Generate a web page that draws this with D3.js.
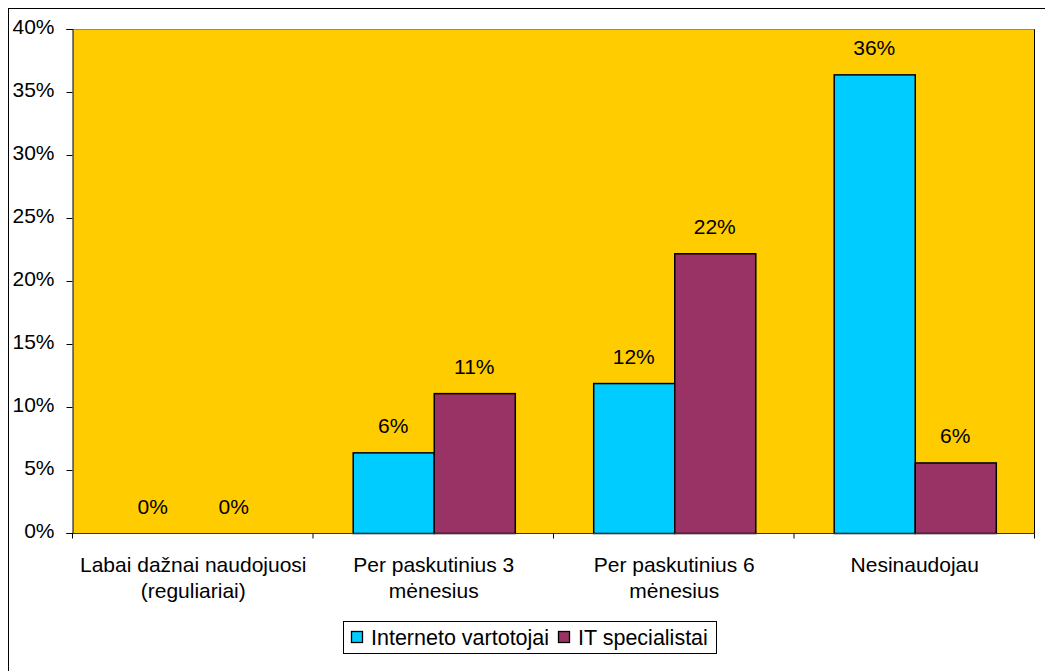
<!DOCTYPE html>
<html>
<head>
<meta charset="utf-8">
<script src="https://d3js.org/d3.v7.min.js"></script>
<style>
  html, body { margin: 0; padding: 0; background: #ffffff; }
  svg { display: block; font-family: "Liberation Sans", Arial, sans-serif; }
</style>
</head>
<body>
<svg id="chart" width="1045" height="671"></svg>
<script>
// Survey answers (two-line labels) and shares per respondent group
const categories = [
  ["Labai dažnai naudojuosi", "(reguliariai)"],
  ["Per paskutinius 3", "mėnesius"],
  ["Per paskutinius 6", "mėnesius"],
  ["Nesinaudojau"]
];
const seriesNames = ["Interneto vartotojai", "IT specialistai"];
const internetoVartotojai = [0, 0.064, 0.119, 0.364];
const itSpecialistai = [0, 0.111, 0.222, 0.056];
const yTicks = [0, 0.05, 0.10, 0.15, 0.20, 0.25, 0.30, 0.35, 0.40];
const colors = ["#00CCFF", "#993366"];

const FONT = 21;
const svg = d3.select("#chart");
const W = 1045, H = 671;
const plot = { left: 73, right: 1035, top: 29, bottom: 533 };

// Outer chart frame (runs past the right and bottom edges)
svg.append("rect")
  .attr("x", 8.5).attr("y", 8.5)
  .attr("width", W + 10).attr("height", H + 10)
  .attr("fill", "#ffffff").attr("stroke", "#000").attr("stroke-width", 1);

const x0 = d3.scaleBand()
  .domain(d3.range(categories.length))
  .range([plot.left, plot.right])
  .paddingInner(0).paddingOuter(0);

const groupPad = 0.163;
const x1 = d3.scaleBand()
  .domain([0, 1])
  .range([x0.bandwidth() * groupPad, x0.bandwidth() * (1 - groupPad)]);

const y = d3.scaleLinear().domain([0, 0.40]).range([plot.bottom, plot.top]);

// Plot background
svg.append("rect")
  .attr("x", plot.left).attr("y", plot.top)
  .attr("width", plot.right - plot.left).attr("height", plot.bottom - plot.top)
  .attr("fill", "#FFCC00");
svg.append("line")
  .attr("x1", plot.right - 0.5).attr("x2", plot.right - 0.5)
  .attr("y1", plot.top).attr("y2", plot.bottom)
  .attr("stroke", "#000").attr("stroke-width", 1);
svg.append("line")
  .attr("x1", plot.left).attr("x2", plot.right)
  .attr("y1", plot.top + 0.5).attr("y2", plot.top + 0.5)
  .attr("stroke", "#7a6a00").attr("stroke-width", 0.6);

const data = categories.map((c, i) => ({ i, values: [internetoVartotojai[i], itSpecialistai[i]] }));
const fmt = d3.format(".0%");

const groups = svg.append("g").selectAll("g")
  .data(data).join("g")
  .attr("transform", d => `translate(${x0(d.i)},0)`);

groups.selectAll("rect")
  .data(d => d.values.map((v, s) => ({ v, s })))
  .join("rect")
  .filter(d => d.v > 0)
  .attr("x", d => x1(d.s) + 0.5)
  .attr("y", d => y(d.v) + 0.5)
  .attr("width", x1.bandwidth())
  .attr("height", d => y(0) - y(d.v))
  .attr("fill", d => colors[d.s])
  .attr("stroke", "#000").attr("stroke-width", 1.5);

groups.selectAll("text.val")
  .data(d => d.values.map((v, s) => ({ v, s })))
  .join("text")
  .attr("class", "val")
  .attr("x", d => x1(d.s) + x1.bandwidth() / 2)
  .attr("y", d => y(d.v) - 19)
  .attr("text-anchor", "middle")
  .attr("font-size", FONT)
  .attr("fill", "#000")
  .text(d => fmt(d.v));

// Y axis
const yAxis = d3.axisLeft(y).tickValues(yTicks).tickFormat(fmt).tickSize(6).tickPadding(12);
const gy = svg.append("g").attr("transform", `translate(${plot.left - 0.5},0)`).call(yAxis);
gy.select(".domain").attr("stroke", "#000");
gy.selectAll(".tick line").attr("stroke", "#000");
gy.selectAll(".tick text").attr("font-size", FONT).attr("fill", "#000")
  .attr("dy", "0.22em")
  .attr("font-family", "Liberation Sans, Arial, sans-serif");

// X axis with ticks at category boundaries
const gx = svg.append("g").attr("transform", `translate(0,${plot.bottom + 0.5})`);
gx.append("line")
  .attr("x1", plot.left).attr("x2", plot.right)
  .attr("stroke", "#333").attr("stroke-width", 1.2);
const bounds = d3.range(categories.length + 1).map(i => i === categories.length ? plot.right : x0(i));
gx.selectAll("line.tk").data(bounds).join("line")
  .attr("class", "tk")
  .attr("x1", d => d - 0.5).attr("x2", d => d - 0.5)
  .attr("y1", 0).attr("y2", 5)
  .attr("stroke", "#000");

const catLabels = gx.selectAll("text.cat").data(categories).join("text")
  .attr("class", "cat")
  .attr("text-anchor", "middle")
  .attr("font-size", FONT)
  .attr("fill", "#000");
catLabels.each(function (lines, i) {
  const t = d3.select(this);
  lines.forEach((ln, k) => {
    t.append("tspan")
      .attr("x", x0(i) + x0.bandwidth() / 2)
      .attr("y", 38 + k * 26)
      .text(ln);
  });
});

// Legend
const legend = svg.append("g").attr("transform", "translate(343,621)");
legend.append("rect")
  .attr("x", 0.5).attr("y", 0.5).attr("width", 373).attr("height", 32)
  .attr("fill", "#fff").attr("stroke", "#000").attr("stroke-width", 1);
const items = [
  { name: seriesNames[0], x: 8, color: colors[0] },
  { name: seriesNames[1], x: 215, color: colors[1] }
];
items.forEach(it => {
  legend.append("rect")
    .attr("x", it.x + 0.5).attr("y", 10.5).attr("width", 11).attr("height", 11)
    .attr("fill", it.color).attr("stroke", "#000").attr("stroke-width", 1.3);
  legend.append("text")
    .attr("x", it.x + 20).attr("y", 24)
    .attr("font-size", 21.5).attr("fill", "#000")
    .text(it.name);
});
</script>
</body>
</html>
